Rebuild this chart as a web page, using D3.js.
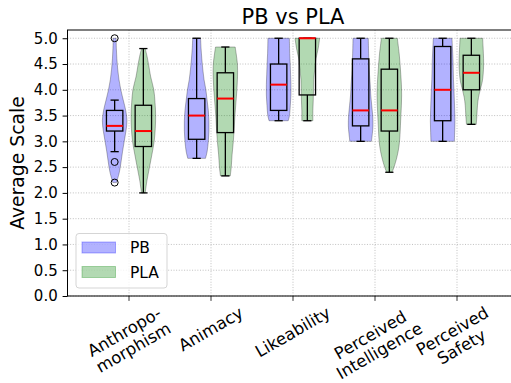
<!DOCTYPE html>
<html>
<head>
<meta charset="utf-8">
<script src="https://cdn.jsdelivr.net/npm/d3@7"></script>
<style>
  body { margin: 0; background: #fff; }
  svg { font-family: "DejaVu Sans", sans-serif; display: block; }
</style>
</head>
<body>
<svg id="chart"></svg>
<script>
// categories and series
const categories = ["Anthropo-\nmorphism", "Animacy", "Likeability", "Perceived\nIntelligence", "Perceived\nSafety"];
const seriesNames = ["PB", "PLA"];
const yTicks = [0, 0.5, 1, 1.5, 2, 2.5, 3, 3.5, 4, 4.5, 5];

// box stats per category: [whisker low, q1, median, q3, whisker high]
const pbStats = [
  [2.8, 3.2, 3.3, 3.6, 3.8],
  [2.67, 3.04, 3.5, 3.83, 5.0],
  [3.4, 3.6, 4.1, 4.5, 5.0],
  [3.0, 3.3, 3.6, 4.6, 5.0],
  [3.0, 3.4, 4.0, 4.84, 5.0]
];
const plaStats = [
  [2.0, 2.9, 3.2, 3.7, 4.8],
  [2.33, 3.17, 3.83, 4.33, 4.83],
  [3.4, 3.9, 5.0, 5.0, 5.0],
  [2.4, 3.2, 3.6, 4.4, 5.0],
  [3.33, 4.0, 4.33, 4.67, 5.0]
];
const pbOutliers = [[5.0, 2.6, 2.2], [], [], [], []];
const plaOutliers = [[], [], [], [], []];

// violin outlines: [value, relative half width]
const pbShape = [
  [[2.2,0.15],[2.4,0.38],[2.6,0.52],[2.8,0.64],[3.0,0.78],[3.2,0.92],[3.4,1.0],[3.6,0.9],[3.8,0.7],[4.0,0.5],[4.2,0.35],[4.4,0.25],[4.6,0.18],[4.8,0.14],[5.0,0.12]],
  [[2.67,0.72],[2.8,0.85],[3.0,0.95],[3.2,1.0],[3.4,1.0],[3.6,0.95],[3.8,0.85],[4.0,0.75],[4.2,0.6],[4.4,0.5],[4.6,0.42],[4.8,0.36],[5.0,0.32]],
  [[3.4,0.78],[3.5,0.88],[3.7,0.95],[3.9,1.0],[4.1,1.0],[4.3,0.97],[4.5,0.94],[4.7,0.9],[4.9,0.88],[5.0,0.87]],
  [[3.0,0.88],[3.15,0.95],[3.3,1.0],[3.5,0.98],[3.7,0.9],[3.9,0.82],[4.1,0.78],[4.3,0.72],[4.5,0.68],[4.7,0.65],[4.9,0.63],[5.0,0.62]],
  [[3.0,0.95],[3.2,0.98],[3.4,1.0],[3.6,0.98],[3.8,0.95],[4.0,0.92],[4.2,0.88],[4.4,0.86],[4.6,0.84],[4.8,0.8],[5.0,0.76]]
];
const plaShape = [
  [[2.0,0.15],[2.25,0.3],[2.5,0.5],[2.75,0.7],[3.0,0.88],[3.25,0.97],[3.5,1.0],[3.75,0.95],[4.0,0.85],[4.25,0.6],[4.5,0.42],[4.65,0.3],[4.8,0.15]],
  [[2.33,0.4],[2.5,0.48],[2.75,0.55],[3.0,0.65],[3.25,0.72],[3.5,0.78],[3.75,0.86],[4.0,0.94],[4.25,0.99],[4.5,0.98],[4.7,0.88],[4.83,0.8]],
  [[3.4,0.45],[3.6,0.45],[3.8,0.48],[4.0,0.5],[4.2,0.52],[4.4,0.6],[4.6,0.7],[4.8,0.88],[5.0,1.0]],
  [[2.4,0.22],[2.5,0.38],[2.7,0.62],[2.9,0.78],[3.1,0.86],[3.3,0.9],[3.5,0.94],[3.7,0.98],[3.9,1.0],[4.1,0.98],[4.3,0.93],[4.5,0.87],[4.7,0.8],[4.9,0.7],[5.0,0.65]],
  [[3.33,0.4],[3.5,0.45],[3.7,0.5],[3.85,0.58],[4.0,0.72],[4.15,0.88],[4.3,0.96],[4.5,1.0],[4.7,0.98],[4.85,0.95],[5.0,0.92]]
];

const W = 511, H = 383;
const plotL = 67.5, plotR = 518.5, plotT = 30, plotB = 296;
const offset = 0.175, violinW = 0.3, boxW = 0.2;
const colors = {PB: "blue", PLA: "green"};

const svg = d3.select("#chart").attr("width", W).attr("height", H);

const x = d3.scaleLinear().domain([0.25, 5.75]).range([plotL, plotR]);
const y = d3.scaleLinear().domain([0, 5.16]).range([plotB, plotT]);
const wpx = x(1 + violinW / 2) - x(1);

// grid
const grid = svg.append("g");
grid.selectAll(".gy").data(yTicks).enter().append("line")
  .attr("x1", plotL).attr("x2", plotR)
  .attr("y1", d => y(d)).attr("y2", d => y(d))
  .attr("stroke", "#b0b0b0").attr("stroke-width", 0.8).attr("stroke-dasharray", "1,1.65");
grid.selectAll(".gx").data(categories).enter().append("line")
  .attr("x1", (d, i) => x(i + 1)).attr("x2", (d, i) => x(i + 1))
  .attr("y1", plotT).attr("y2", plotB)
  .attr("stroke", "#b0b0b0").attr("stroke-width", 0.8).attr("stroke-dasharray", "1,1.65");

function drawSeries(name, stats, outliers, shapes, dx) {
  const g = svg.append("g");
  const color = colors[name];

  // violins
  shapes.forEach(function(shape, i) {
    const cx = x(i + 1 + dx);
    const area = d3.area()
      .y(d => y(d[0]))
      .x0(d => cx - d[1] * wpx)
      .x1(d => cx + d[1] * wpx)
      .curve(d3.curveCatmullRom);
    g.append("path").datum(shape)
      .attr("d", area)
      .attr("fill", color).attr("fill-opacity", 0.3)
      .attr("stroke", "#000").attr("stroke-opacity", 0.28).attr("stroke-width", 1);
  });

  // boxes
  stats.forEach(function(s, i) {
    const cx = x(i + 1 + dx);
    const bw = x(1 + boxW / 2) - x(1), cw = bw / 2;
    const lo = s[0], q1 = s[1], med = s[2], q3 = s[3], hi = s[4];
    const line = (x1, y1, x2, y2, c, w) => g.append("line")
      .attr("x1", x1).attr("y1", y1).attr("x2", x2).attr("y2", y2)
      .attr("stroke", c).attr("stroke-width", w);
    line(cx, y(q1), cx, y(lo), "#000", 1.3);
    line(cx, y(q3), cx, y(hi), "#000", 1.3);
    line(cx - cw, y(lo), cx + cw, y(lo), "#000", 1.3);
    line(cx - cw, y(hi), cx + cw, y(hi), "#000", 1.3);
    g.append("rect")
      .attr("x", cx - bw).attr("y", y(q3))
      .attr("width", 2 * bw).attr("height", Math.max(0.01, y(q1) - y(q3)))
      .attr("fill", "none").attr("stroke", "#000").attr("stroke-width", 1.3);
    line(cx - bw, y(med), cx + bw, y(med), "red", 2);
    outliers[i].forEach(function(v) {
      g.append("circle").attr("cx", cx).attr("cy", y(v)).attr("r", 3.5)
        .attr("fill", "none").attr("stroke", "#000").attr("stroke-width", 1);
    });
  });
}

drawSeries("PB", pbStats, pbOutliers, pbShape, -offset);
drawSeries("PLA", plaStats, plaOutliers, plaShape, offset);

// frame
svg.append("rect").attr("x", plotL).attr("y", plotT)
  .attr("width", plotR - plotL).attr("height", plotB - plotT)
  .attr("fill", "none").attr("stroke", "#000").attr("stroke-width", 1);

// y axis
const yAxis = d3.axisLeft(y).tickValues(yTicks).tickFormat(d3.format(".1f"))
  .tickSize(4.9).tickPadding(4.9);
const yg = svg.append("g").attr("transform", "translate(" + plotL + ",0)").call(yAxis);
yg.select(".domain").remove();
yg.selectAll("text").attr("font-size", 15).attr("font-family", "DejaVu Sans").attr("fill", "#000");

// x axis ticks
const xg = svg.append("g");
xg.selectAll("line").data(categories).enter().append("line")
  .attr("x1", (d, i) => x(i + 1)).attr("x2", (d, i) => x(i + 1))
  .attr("y1", plotB).attr("y2", plotB + 4.9)
  .attr("stroke", "#000").attr("stroke-width", 0.8);

// rotated multi-line x labels, bbox centred on the tick like matplotlib
const fs = 16.5, lh = fs * 1.1;
categories.forEach(function(label, i) {
  const lines = label.split("\n");
  const lg = xg.append("g").attr("transform", "rotate(-30)");
  const t = lg.append("text").attr("font-size", fs).attr("text-anchor", "middle").attr("fill", "#000");
  lines.forEach(function(ln, k) {
    t.append("tspan").attr("x", 0)
      .attr("y", (k - (lines.length - 1) / 2) * lh + fs * 0.36)
      .text(ln);
  });
  const r = t.node().getBoundingClientRect();
  const tx = x(i + 1) - (r.left + r.right) / 2, ty = plotB + 7 - r.top;
  lg.attr("transform", "translate(" + tx + "," + ty + ") rotate(-30)");
});

// title and axis label
svg.append("text").attr("x", (plotL + plotR) / 2).attr("y", 24)
  .attr("text-anchor", "middle").attr("font-size", 21).text("PB vs PLA");
svg.append("text")
  .attr("transform", "translate(24," + (plotT + plotB) / 2 + ") rotate(-90)")
  .attr("text-anchor", "middle").attr("font-size", 18.8).text("Average Scale");

// legend
const leg = svg.append("g");
leg.append("rect").attr("x", 76).attr("y", 233.5).attr("width", 91).attr("height", 54.5)
  .attr("rx", 3).attr("fill", "#fff").attr("fill-opacity", 0.8)
  .attr("stroke", "#d5d5d5").attr("stroke-width", 1);
seriesNames.forEach(function(name, k) {
  const yy = 242 + k * 24.5;
  leg.append("rect").attr("x", 82).attr("y", yy).attr("width", 33.5).attr("height", 11)
    .attr("fill", colors[name]).attr("fill-opacity", 0.3)
    .attr("stroke", colors[name]).attr("stroke-opacity", 0.3);
  leg.append("text").attr("x", 130).attr("y", yy + 11.3).attr("font-size", 15.5).text(name);
});
</script>
</body>
</html>
